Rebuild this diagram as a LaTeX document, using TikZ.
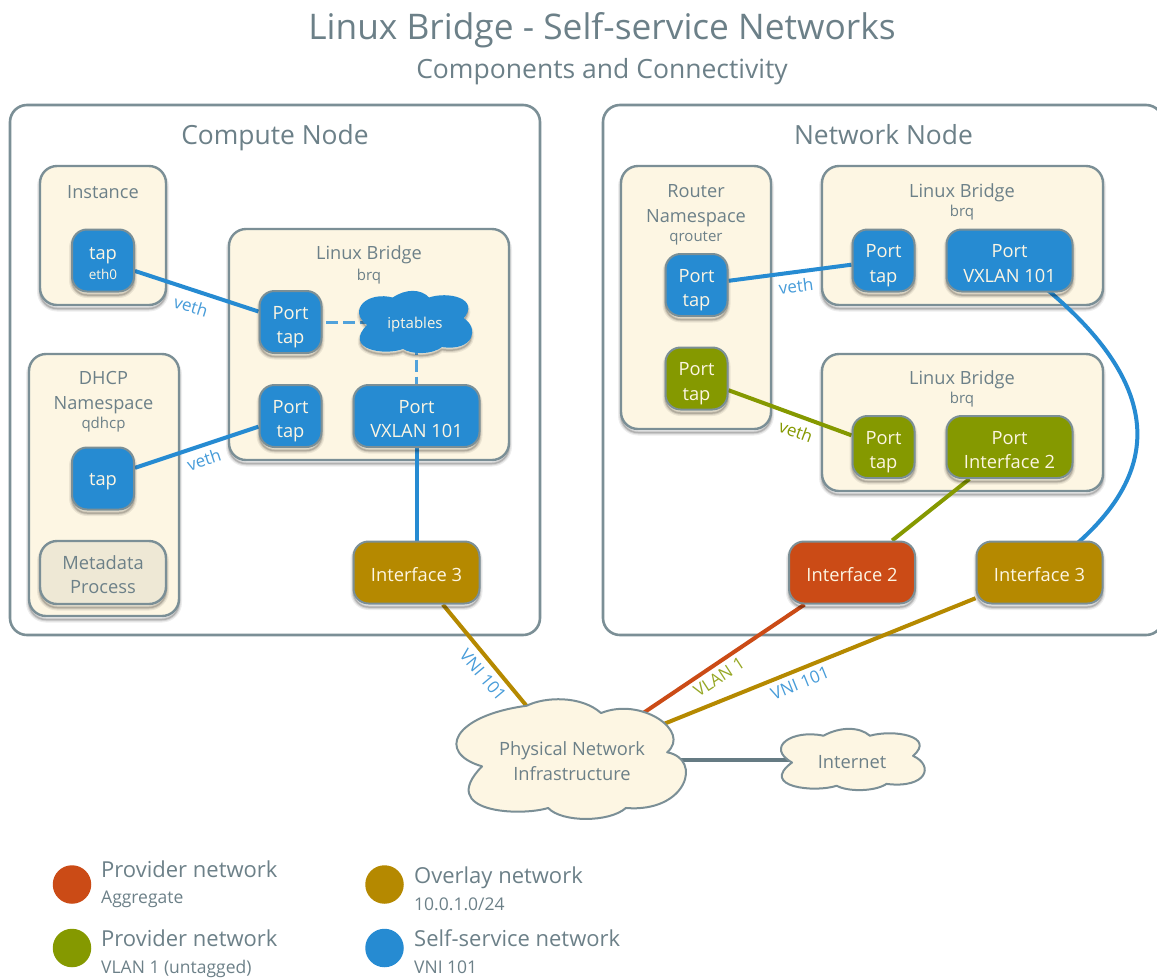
\documentclass[tikz,border=0pt]{standalone}
\usepackage{fontspec}
\setmainfont{Open Sans}
\usetikzlibrary{backgrounds}
\definecolor{sblue}{HTML}{268BD2}
\definecolor{sgreen}{HTML}{859900}
\definecolor{sorange}{HTML}{CB4B16}
\definecolor{syellow}{HTML}{B58900}
\definecolor{scream}{HTML}{FDF6E3}
\definecolor{sbase}{HTML}{EEE8D5}
\definecolor{sline}{HTML}{7B8F96}
\definecolor{stext}{HTML}{6C8088}
\definecolor{sdark}{HTML}{657B83}
\pgfdeclarelayer{conn}
\pgfdeclarelayer{top}
\pgfsetlayers{background,main,conn,top}
\tikzset{
  softshadow/.style={
    preaction={draw=black,draw opacity=.07,fill=none,line width=6pt,transform canvas={yshift=-3.5pt}},
    preaction={draw=black,draw opacity=.10,fill=none,line width=3.5pt,transform canvas={yshift=-3.5pt}},
    preaction={draw=black,draw opacity=.16,fill=none,line width=1.5pt,transform canvas={yshift=-3.5pt}}},
  outerbox/.style={draw=sline,line width=2.6pt,rounded corners=17pt,fill=white,inner sep=0pt},
  contbox/.style={softshadow,draw=sline,line width=2.4pt,rounded corners=17pt,fill=scream,inner sep=0pt},
  procbox/.style={softshadow,draw=sline,line width=2.4pt,rounded corners=17pt,fill=sbase,inner sep=0pt,
    text=stext,font=\fontsize{18.3}{24}\selectfont,align=center,text height=47pt,text depth=5pt},
  portbox/.style={softshadow,draw=sline,line width=2pt,rounded corners=15pt,inner sep=0pt,
    text=scream,font=\fontsize{18.3}{24.5}\selectfont,align=center},
  twolines/.style={text height=48pt,text depth=5pt},
  oneword/.style={text height=18pt,text depth=0pt},
  tapword/.style={text height=18pt,text depth=5pt},
  small/.style={minimum width=62pt,minimum height=62pt},
  wide/.style={minimum width=126pt,minimum height=62pt},
  fblue/.style={fill=sblue},
  fgreen/.style={fill=sgreen},
  forange/.style={fill=sorange},
  fyellow/.style={fill=syellow},
  titletext/.style={text=stext,font=\fontsize{#1}{#1}\selectfont,inner sep=0pt},
  titletext/.default=17,
  head/.style={text=stext,font=\fontsize{18.2}{25}\selectfont,inner sep=0pt,align=center},
  subhead/.style={text=stext,font=\fontsize{15}{15}\selectfont,inner sep=0pt},
  link/.style={line width=4pt},
  tunnel/.style={line width=4pt},
  dashlink/.style={line width=3pt,color=sblue!80!white,dash pattern=on 12pt off 5pt,dash phase=13.5pt},
  tag/.style={font=\fontsize{17}{17}\selectfont,inner sep=0pt},
  cloudshape/.style={draw=sline,line width=2pt,line join=round},
  legdot/.style={circle,minimum size=38.5pt,inner sep=0pt},
  legname/.style={anchor=base west,text=stext,font=\fontsize{22}{22}\selectfont,inner sep=0pt},
  legsub/.style={anchor=base west,text=stext,font=\fontsize{17.5}{17.5}\selectfont,inner sep=0pt},
}
\newcommand{\bigcloud}{(.297,.056) .. controls (.377,-.02) and (.536,-.03) .. (.623,.117)
  .. controls (.80,-.02) and (1.02,.27) .. (.913,.444)
  .. controls (1.07,.5) and (1.0,.95) .. (.732,.908)
  .. controls (.66,1.03) and (.45,1.03) .. (.391,.908)
  .. controls (.27,.98) and (-.10,.95) .. (.101,.561)
  .. controls (-.10,.45) and (-.03,.14) .. (.297,.056) -- cycle}
\newcommand{\flatcloud}{(.100,.549) .. controls (-.08,.30) and (.10,.0) .. (.310,.11)
  .. controls (.42,-.04) and (.55,-.04) .. (.619,.11)
  .. controls (.78,.0) and (1.06,.12) .. (.907,.44)
  .. controls (1.05,.6) and (1.0,.98) .. (.73,.90)
  .. controls (.65,1.03) and (.47,1.03) .. (.398,.93)
  .. controls (.25,1.05) and (-.12,.95) .. (.100,.549) -- cycle}
\begin{document}
\begin{tikzpicture}[x=1pt,y=-1pt]
\useasboundingbox (0,0) rectangle (1157,978);
% titles
\node[titletext=35.3] (title) at (602,30.5) {Linux Bridge - Self-service Networks};
\node[titletext=26.5] (subtitle) at (602,71.5) {Components and Connectivity};
% outer nodes
\node[outerbox,minimum width=530pt,minimum height=530pt] (compute) at (275,370) {};
\node[outerbox,minimum width=560pt,minimum height=530pt] (network) at (883,370) {};
\node[titletext=26.4,anchor=base] (computelabel) at (275,144.5) {Compute Node};
\node[titletext=26.4,anchor=base] (networklabel) at (883.5,144.5) {Network Node};
% containers
\node[contbox,minimum width=126pt,minimum height=139pt] (instance) at (103,235.5) {};
\node[contbox,minimum width=280pt,minimum height=231pt] (bridge) at (369,344.5) {};
\node[contbox,minimum width=150pt,minimum height=262pt] (dhcp) at (104,485) {};
\node[contbox,minimum width=150pt,minimum height=263pt] (router) at (696,297.5) {};
\node[contbox,minimum width=281pt,minimum height=139pt] (bridgea) at (962.5,235.5) {};
\node[contbox,minimum width=281pt,minimum height=137pt] (bridgeb) at (962.5,422.5) {};
% container labels
\node[head] (instancelabel) at (103,192) {Instance};
\node[head] (dhcplabel) at (103.5,392.5) {DHCP\\Namespace};
\node[subhead] (dhcpsub) at (103.5,425) {qdhcp};
\node[head] (bridgelabel) at (369,255) {Linux Bridge};
\node[subhead] (bridgesub) at (369,277) {brq};
\node[head] (routerlabel) at (696,205.5) {Router\\Namespace};
\node[subhead] (routersub) at (696,238) {qrouter};
\node[head] (bridgealabel) at (962,193) {Linux Bridge};
\node[subhead] (bridgeasub) at (962,213) {brq};
\node[head] (bridgeblabel) at (962,380) {Linux Bridge};
\node[subhead] (bridgebsub) at (962,400) {brq};
\begin{pgfonlayer}{top}
% compute node ports
\node[portbox,fblue,small,text height=38pt,text depth=0pt] (tapa) at (103,260.5) {tap\\[-4pt]{\fontsize{13.5}{15}\selectfont eth0}};
\node[portbox,fblue,small,twolines] (porta) at (290.5,322) {Port\\tap};
\node[portbox,fblue,small,twolines] (portb) at (290.5,416) {Port\\tap};
\node[portbox,fblue,wide,twolines] (vxa) at (416.5,416) {Port\\VXLAN 101};
\node[portbox,fblue,small,tapword] (tapb) at (103,478.5) {tap};
\node[procbox,minimum width=126pt,minimum height=63pt] (meta) at (103,572.5) {Metadata\\Process};
\node[portbox,fyellow,wide,oneword] (ifa) at (416.5,572.5) {Interface 3};
% network node ports
\node[portbox,fblue,small,twolines] (portc) at (696.5,285) {Port\\tap};
\node[portbox,fgreen,small,twolines] (portd) at (696.5,378.5) {Port\\tap};
\node[portbox,fblue,small,twolines] (porte) at (883.5,260.5) {Port\\tap};
\node[portbox,fblue,wide,twolines] (vxb) at (1009.5,260.5) {Port\\VXLAN 101};
\node[portbox,fgreen,small,twolines] (portf) at (883.5,447) {Port\\tap};
\node[portbox,fgreen,wide,twolines] (porti) at (1009.5,447) {Port\\Interface 2};
\node[portbox,forange,wide,oneword] (ifb) at (852,572.5) {Interface 2};
\node[portbox,fyellow,wide,oneword] (ifc) at (1039.5,572.5) {Interface 3};
% clouds
\draw[softshadow,cloudshape,fill=sblue,draw=sblue,shift={(357,292)},x=116pt,y=-60pt] \flatcloud;
\node[text=scream,font=\fontsize{15}{15}\selectfont,inner sep=0pt] (ipt) at (415,324.5) {iptables};
\coordinate (iptport) at (416.5,322);
\draw[cloudshape,fill=scream,shift={(459,699)},x=228pt,y=-120pt] \bigcloud;
\node[text=stext,font=\fontsize{18.3}{24.5}\selectfont,align=center,inner sep=0pt] (phys) at (572,761) {Physical Network\\Infrastructure};
\draw[cloudshape,fill=scream,shift={(777,729)},x=150pt,y=-61pt] \flatcloud;
\node[text=stext,font=\fontsize{18.3}{24}\selectfont,inner sep=0pt] (inet) at (852,762) {Internet};
\coordinate (physport) at (572,760);
\coordinate (inetport) at (852,760);
\end{pgfonlayer}
\begin{pgfonlayer}{conn}
\draw[link,sblue] (tapa) -- (porta);
\draw[link,sblue] (tapb) -- (portb);
\draw[dashlink] (porta) -- (iptport);
\draw[dashlink] (iptport) -- (vxa);
\draw[link,sblue] (vxa) -- (ifa);
\draw[link,sblue] (portc) -- (porte);
\draw[link,sgreen] (portd) -- (portf);
\draw[link,sgreen] (porti) -- (ifb);
\draw[link,sblue] (vxb.center) .. controls (1190,390) and (1160,490) .. (ifc.center);
\draw[tunnel,syellow] (ifa) -- (phys);
\draw[tunnel,sorange] (ifb) -- (phys);
\draw[tunnel,syellow] (ifc) -- (phys);
\draw[line width=4.5pt,sdark] (physport) -- (inetport);
\end{pgfonlayer}
% connector labels
\node[tag,text=sblue!85!white,rotate=-17] (vetha) at (191,306) {veth};
\node[tag,text=sblue!85!white,rotate=18] (vethb) at (204,460) {veth};
\node[tag,text=sblue!85!white,rotate=7] (vethc) at (796,286) {veth};
\node[tag,text=sgreen,rotate=-20] (vethd) at (796,431.5) {veth};
\node[tag,text=sblue!85!white,rotate=-50] (vnia) at (483,675) {VNI 101};
\node[tag,text=sgreen!85!white,rotate=33] (vlan) at (719,677) {VLAN 1};
\node[tag,text=sblue!85!white,rotate=22] (vnib) at (800,683) {VNI 101};
% legend
\node[legdot,fill=sorange] (dota) at (72,884.5) {};
\node[legdot,fill=sgreen] (dotb) at (72,948) {};
\node[legdot,fill=syellow] (dotc) at (384.5,884.5) {};
\node[legdot,fill=sblue] (dotd) at (384.5,948) {};
\node[legname] (lega) at (101,877) {Provider network};
\node[legsub] (legas) at (101,903) {Aggregate};
\node[legname] (legb) at (101,946) {Provider network};
\node[legsub] (legbs) at (101,973) {VLAN 1 (untagged)};
\node[legname] (legc) at (414,883) {Overlay network};
\node[legsub] (legcs) at (414,910) {10.0.1.0/24};
\node[legname] (legd) at (414,946) {Self-service network};
\node[legsub] (legds) at (414,973) {VNI 101};
\end{tikzpicture}
\end{document}
